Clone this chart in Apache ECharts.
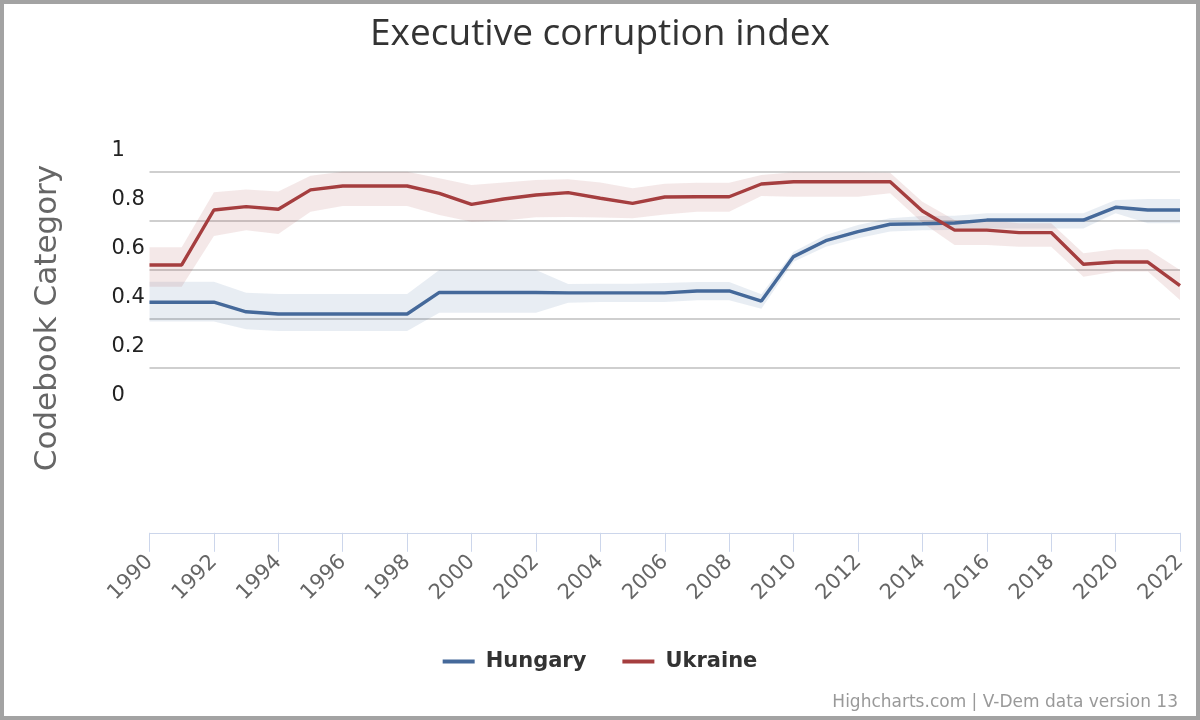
<!DOCTYPE html>
<html>
<head>
<meta charset="utf-8">
<script src="https://cdn.jsdelivr.net/npm/echarts@6/dist/echarts.min.js"></script>
<style>
html, body { margin: 0; padding: 0; background: #fff; }
#chart { position: absolute; left: 0; top: 0; width: 1200px; height: 720px; }
#frame { position: absolute; left: 0; top: 0; width: 1200px; height: 720px; box-sizing: border-box; border: 4px solid #a3a3a3; pointer-events: none; }
</style>
</head>
<body>
<div id="chart"></div>
<div id="frame"></div>
<script>
var years = ['1990','1991','1992','1993','1994','1995','1996','1997','1998','1999',
    '2000','2001','2002','2003','2004','2005','2006','2007','2008','2009',
    '2010','2011','2012','2013','2014','2015','2016','2017','2018','2019',
    '2020','2021','2022'];

var hungary = [0.467,0.467,0.467,0.428,0.419,0.419,0.419,0.419,0.419,0.507,
    0.507,0.507,0.507,0.505,0.505,0.505,0.505,0.513,0.513,0.472,
    0.653,0.718,0.755,0.785,0.787,0.790,0.802,0.802,0.802,0.802,
    0.854,0.843,0.843];
var hungaryLow = [0.388,0.388,0.388,0.357,0.350,0.350,0.350,0.350,0.350,0.424,
    0.424,0.424,0.424,0.465,0.468,0.468,0.468,0.475,0.475,0.440,
    0.632,0.693,0.728,0.755,0.761,0.762,0.768,0.768,0.768,0.768,
    0.830,0.789,0.789];
var hungaryHigh = [0.551,0.551,0.551,0.506,0.501,0.501,0.501,0.501,0.501,0.598,
    0.598,0.598,0.598,0.541,0.542,0.542,0.545,0.550,0.550,0.500,
    0.673,0.741,0.782,0.809,0.819,0.820,0.830,0.830,0.830,0.830,
    0.884,0.888,0.888];

var ukraine = [0.619,0.619,0.843,0.857,0.846,0.925,0.941,0.941,0.941,0.911,
    0.866,0.888,0.904,0.914,0.891,0.870,0.896,0.897,0.897,0.949,
    0.958,0.958,0.958,0.958,0.839,0.761,0.761,0.751,0.751,0.622,
    0.631,0.631,0.535];
var ukraineLow = [0.530,0.530,0.737,0.761,0.745,0.836,0.859,0.859,0.859,0.823,
    0.795,0.800,0.813,0.815,0.812,0.809,0.825,0.836,0.836,0.900,
    0.897,0.897,0.897,0.911,0.791,0.700,0.700,0.693,0.693,0.571,
    0.592,0.592,0.476];
var ukraineHigh = [0.691,0.691,0.915,0.927,0.918,0.983,0.999,0.999,0.999,0.972,
    0.945,0.955,0.965,0.968,0.955,0.932,0.950,0.954,0.954,0.986,
    0.997,0.997,0.997,0.995,0.877,0.802,0.802,0.789,0.789,0.667,
    0.683,0.683,0.598];

var blue = '#45699a', red = '#a53e3f';

// band = transparent lower line + stacked (upper - lower) area
function band(name, stack, low, high, fill){
    return [{
        name: name + ' low', type: 'line', stack: stack, data: low,
        symbol: 'none', lineStyle: {opacity: 0}, silent: true
    }, {
        name: name + ' range', type: 'line', stack: stack,
        data: high.map(function(h, i){ return +(h - low[i]).toFixed(3); }),
        symbol: 'none', lineStyle: {opacity: 0}, areaStyle: {color: fill, opacity: 1}, silent: true
    }];
}

var myChart = echarts.init(document.getElementById('chart'));

myChart.setOption({
    animation: false,
    title: {
        text: 'Executive corruption index', left: 'center', top: 11,
        textStyle: {fontFamily: 'Open Sans', fontSize: 37, fontWeight: 'normal', color: '#333'}
    },
    legend: {
        data: [{name: 'Hungary', icon: 'rect'}, {name: 'Ukraine', icon: 'rect'}],
        bottom: 43, left: 'center', itemWidth: 32, itemHeight: 4, itemGap: 36,
        textStyle: {fontFamily: 'DejaVu Sans', fontSize: 21, fontWeight: 'bold', color: '#333', padding: [0, 0, 0, 6]}
    },
    grid: {left: 149.5, right: 20, top: 171.5, bottom: 303.2},
    xAxis: {
        type: 'category', data: years, boundaryGap: false, offset: 116,
        axisLine: {onZero: false, lineStyle: {color: '#ccd6eb', width: 1}},
        axisTick: {interval: 1, length: 19, lineStyle: {color: '#ccd6eb'}},
        axisLabel: {interval: 1, rotate: 45, margin: 26, fontFamily: 'DejaVu Sans', fontSize: 21, color: '#666'},
        splitLine: {show: false}
    },
    yAxis: {
        type: 'value', min: 0, max: 1, interval: 0.2,
        axisLine: {show: false}, axisTick: {show: false},
        splitLine: {showMinLine: false, lineStyle: {color: '#cfcfcf', width: 2}},
        axisLabel: {
            align: 'left', margin: 38, verticalAlign: 'bottom', lineHeight: 20, padding: [0, 0, 11, 0],
            fontFamily: 'DejaVu Sans', fontSize: 21, color: '#222'
        }
    },
    graphic: [{
        type: 'text', x: 48, y: 318, rotation: Math.PI / 2,
        style: {text: 'Codebook Category', fontFamily: 'DejaVu Sans', fontSize: 31, fill: '#666', align: 'center', verticalAlign: 'middle'}
    }, {
        type: 'text', right: 22, bottom: 9,
        style: {text: 'Highcharts.com | V-Dem data version 13', fontFamily: 'DejaVu Sans', fontSize: 17, fill: '#999'}
    }],
    series: [].concat(
        band('Hungary', 'hu', hungaryLow, hungaryHigh, 'rgba(69,105,154,0.12)'),
        band('Ukraine', 'ua', ukraineLow, ukraineHigh, 'rgba(165,62,63,0.12)'),
        [{
            name: 'Hungary', type: 'line', data: hungary, symbol: 'none',
            itemStyle: {color: blue}, lineStyle: {color: blue, width: 3.4}
        }, {
            name: 'Ukraine', type: 'line', data: ukraine, symbol: 'none',
            itemStyle: {color: red}, lineStyle: {color: red, width: 3.4}
        }]
    )
});

window.onresize = function(){
    myChart.resize();
};
</script>
</body>
</html>
